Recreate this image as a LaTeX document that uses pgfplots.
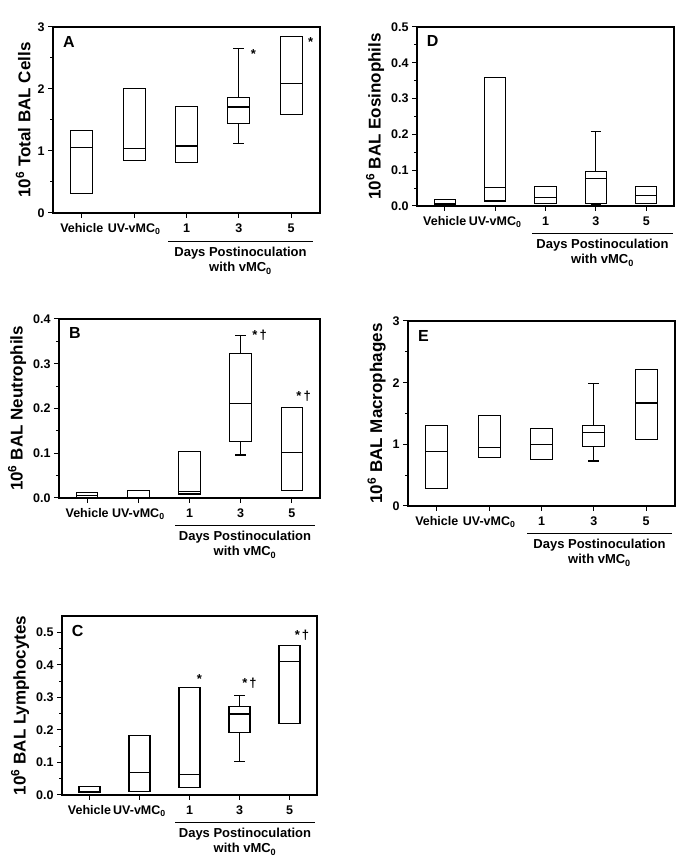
\documentclass[border=0pt]{standalone}
\usepackage{fontspec}
\setmainfont{Liberation Sans}
\usepackage{pgfplots}
\pgfplotsset{compat=1.18}
\usepgfplotslibrary{statistics}
\pgfplotsset{
  panel/.style={
    scale only axis,
    xmin=-0.55, xmax=4.55,
    xtick={0,1,2,3,4},
    xticklabels={Vehicle,UV-vMC\textsubscript{0},1,3,5},
    xtick pos=bottom, ytick pos=left,
    tick align=outside,
    major tick length=5pt, minor tick length=3pt,
    every tick/.style={black, line width=1pt},
    axis line style={line width=1.2pt},
    minor y tick num=1,
    ticklabel style={font=\fontsize{12.5}{14}\selectfont\bfseries},
    xticklabel style={yshift=-2pt},
    /pgf/number format/assume math mode=true,
    ylabel style={font=\fontsize{17}{19}\selectfont\bfseries},
    clip=false,
    boxplot/draw direction=y,
    boxplot/box extend=0.42,
    boxplot/whisker extend=0.21,
    boxplot/every box/.style={black, line width=1.1pt},
    boxplot/every whisker/.style={black, line width=1.1pt},
    boxplot/every median/.style={black, line width=1.1pt},
  },
  dec/.style={yticklabel style={/pgf/number format/.cd, fixed, fixed zerofill, precision=1}},
  bx/.style={black, line width=1.1pt},
}
\newcommand{\bxp}[6]{\addplot[bx, boxplot prepared={draw position=#1, lower whisker=#2, lower quartile=#3, median=#4, upper quartile=#5, upper whisker=#6}] coordinates {};}
\newcommand{\days}[3]{%
  \draw[line width=1pt] (#1pt,#3pt) -- (#2pt,#3pt);
  \node[font=\fontsize{13}{15}\selectfont\bfseries, align=center, anchor=north] at ({(#1pt+#2pt)/2},{#3pt-2pt}) {Days Postinoculation\\with vMC\textsubscript{0}};}
\newcommand{\lab}[1]{\node[font=\fontsize{16}{18}\selectfont\bfseries, anchor=north west] at (axis description cs:0.025,0.97) {#1};}
\newcommand{\sig}{\fontsize{13}{15}\selectfont\bfseries}
\begin{document}
\begin{tikzpicture}
\useasboundingbox (0pt,0pt) rectangle (685pt,863pt);
% Panel A
\begin{axis}[panel, at={(53pt,650pt)}, anchor=south west, width=267pt, height=186pt,
  ymin=0, ymax=3, ytick={0,1,2,3}, ylabel={10\textsuperscript{6} Total BAL Cells}]
\bxp{0}{0.32}{0.32}{1.05}{1.33}{1.33}
\bxp{1}{0.84}{0.84}{1.04}{2.01}{2.01}
\bxp{2}{0.81}{0.81}{1.08}{1.72}{1.72}
\bxp{3}{1.12}{1.44}{1.71}{1.86}{2.66}
\bxp{4}{1.59}{1.59}{2.09}{2.85}{2.85}
\lab{A}
\node[font=\sig] at (axis cs:3.28,2.56) {*};
\node[font=\sig] at (axis cs:4.37,2.76) {*};
\end{axis}
\days{168}{313}{621}
% Panel D
\begin{axis}[panel, dec, at={(417pt,657pt)}, anchor=south west, width=257pt, height=179pt,
  ymin=0, ymax=0.5, ytick={0,0.1,0.2,0.3,0.4,0.5}, ylabel={10\textsuperscript{6} BAL Eosinophils}]
\bxp{0}{0.004}{0.004}{0.008}{0.018}{0.018}
\bxp{1}{0.014}{0.014}{0.052}{0.359}{0.359}
\bxp{2}{0.007}{0.007}{0.023}{0.055}{0.055}
\bxp{3}{0.004}{0.007}{0.077}{0.096}{0.207}
\bxp{4}{0.007}{0.007}{0.029}{0.055}{0.055}
\lab{D}
\end{axis}
\days{532}{673}{629}
% Panel B
\begin{axis}[panel, dec, at={(59pt,365pt)}, anchor=south west, width=261pt, height=179pt,
  ymin=0, ymax=0.4, ytick={0,0.1,0.2,0.3,0.4}, ylabel={10\textsuperscript{6} BAL Neutrophils}]
\bxp{0}{0.001}{0.001}{0.005}{0.013}{0.013}
\bxp{1}{0.0}{0.0}{0.0}{0.017}{0.017}
\bxp{2}{0.009}{0.009}{0.015}{0.103}{0.103}
\bxp{3}{0.096}{0.127}{0.211}{0.322}{0.364}
\bxp{4}{0.017}{0.017}{0.101}{0.203}{0.203}
\lab{B}
\node[font=\sig] at (axis cs:3.37,0.364) {*\,†};
\node[font=\sig] at (axis cs:4.23,0.227) {*\,†};
\end{axis}
\days{175}{315}{337}
% Panel E
\begin{axis}[panel, at={(408pt,357pt)}, anchor=south west, width=267pt, height=185pt,
  ymin=0, ymax=3, ytick={0,1,2,3}, ylabel={10\textsuperscript{6} BAL Macrophages}]
\bxp{0}{0.29}{0.29}{0.89}{1.31}{1.31}
\bxp{1}{0.79}{0.79}{0.95}{1.47}{1.47}
\bxp{2}{0.76}{0.76}{1.00}{1.25}{1.25}
\bxp{3}{0.73}{0.97}{1.19}{1.31}{1.99}
\bxp{4}{1.08}{1.08}{1.67}{2.21}{2.21}
\lab{E}
\end{axis}
\days{527}{672}{329}
% Panel C
\begin{axis}[panel, dec, at={(62pt,68pt)}, anchor=south west, width=255pt, height=179pt,
  ymin=0, ymax=0.55, ytick={0,0.1,0.2,0.3,0.4,0.5}, ylabel={10\textsuperscript{6} BAL Lymphocytes}]
\bxp{0}{0.009}{0.009}{0.010}{0.027}{0.027}
\bxp{1}{0.012}{0.012}{0.069}{0.184}{0.184}
\bxp{2}{0.024}{0.024}{0.063}{0.329}{0.329}
\bxp{3}{0.102}{0.191}{0.249}{0.271}{0.307}
\bxp{4}{0.219}{0.219}{0.410}{0.459}{0.459}
\lab{C}
\node[font=\sig] at (axis cs:2.2,0.355) {*};
\node[font=\sig] at (axis cs:3.2,0.343) {*\,†};
\node[font=\sig] at (axis cs:4.25,0.49) {*\,†};
\end{axis}
\days{175}{315}{40}
\end{tikzpicture}
\end{document}
